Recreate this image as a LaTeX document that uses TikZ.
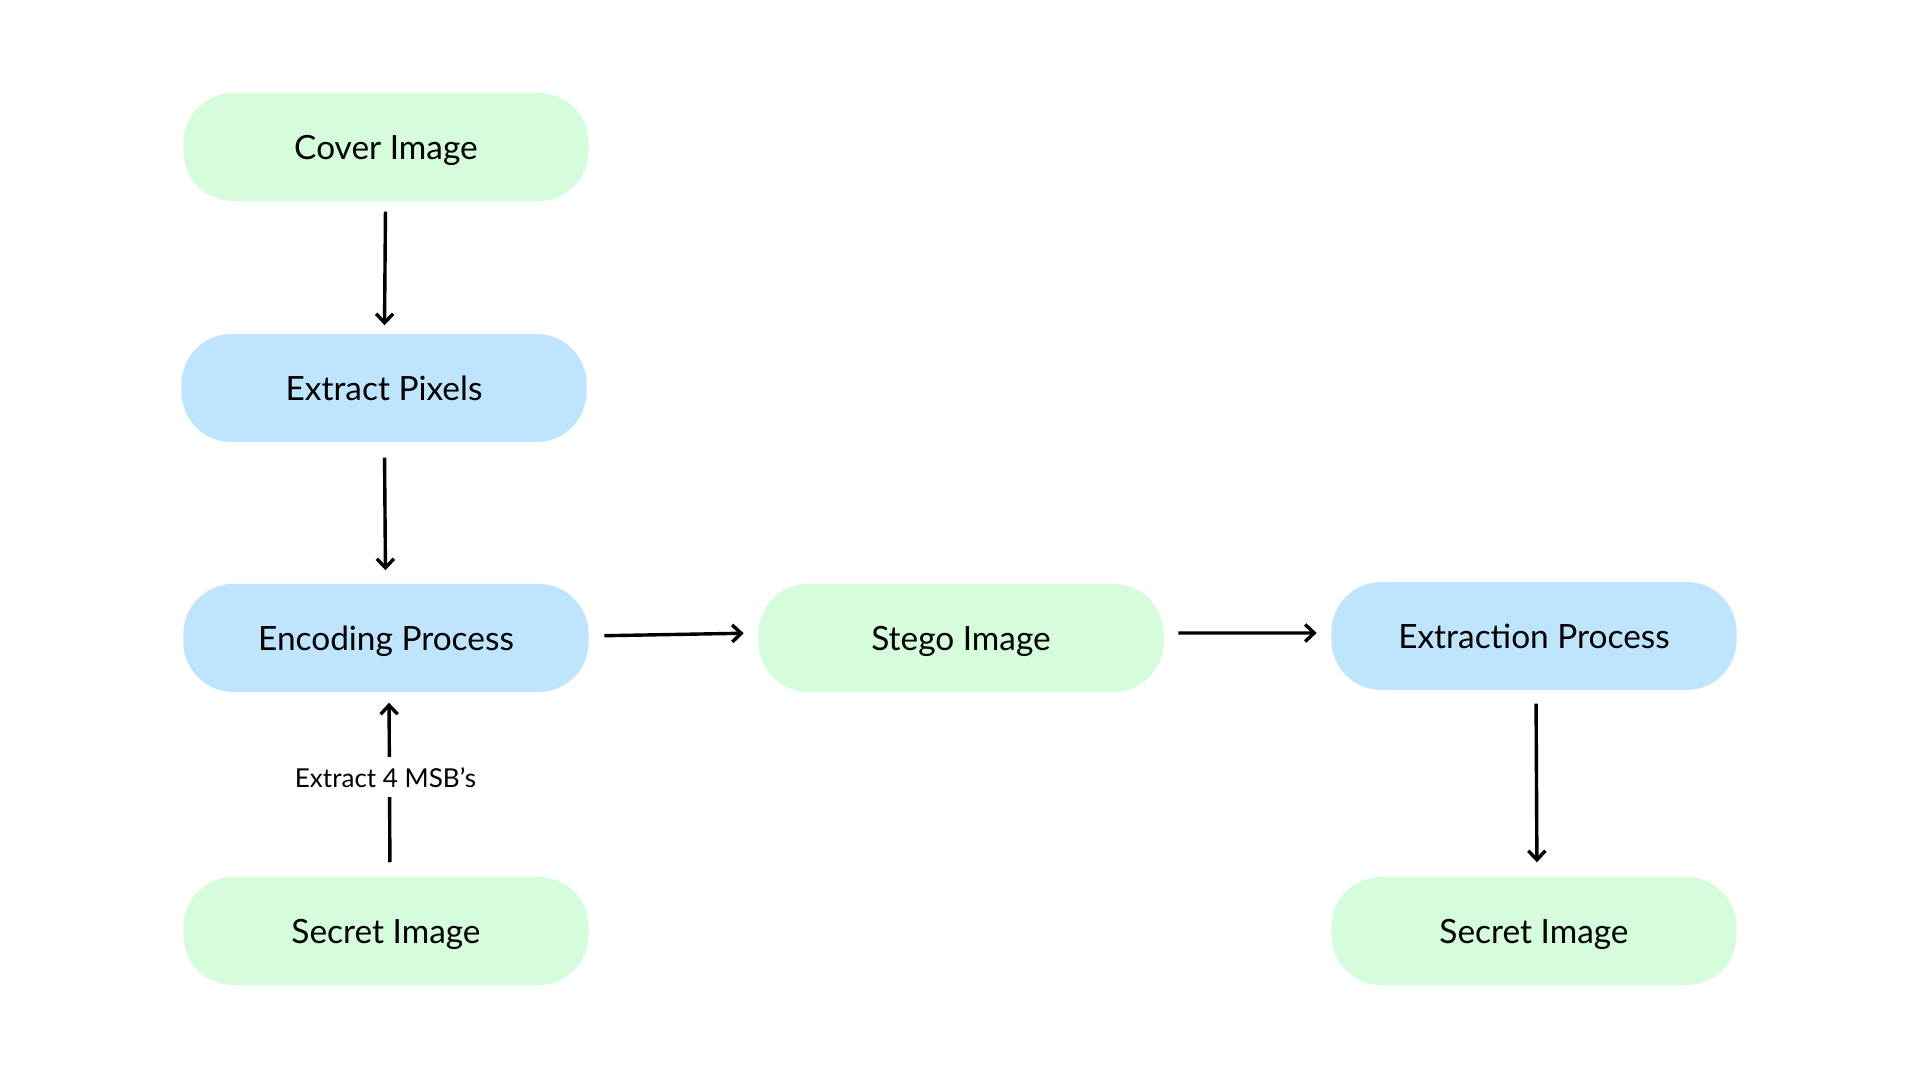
\documentclass[tikz,border=0pt]{standalone}
\usepackage{fontspec}
\setmainfont{Lato}
\usetikzlibrary{arrows.meta}
\definecolor{boxgreen}{HTML}{D5FCDB}
\definecolor{boxblue}{HTML}{BFE4FD}
\tikzset{
  pill/.style={rounded corners=0.5cm, minimum width=4.05cm, minimum height=1.08cm,
    inner sep=0pt, text depth=0pt, font=\fontsize{9.5pt}{11pt}\selectfont, text=black},
  greenbox/.style={pill, fill=boxgreen},
  bluebox/.style={pill, fill=boxblue},
  conn/.style={line width=0.034cm, -{Straight Barb[length=0.09cm, width=0.17cm, line width=0.034cm]}},
  lbl/.style={fill=white, font=\fontsize{7.4pt}{8pt}\selectfont, inner xsep=2pt, inner ysep=0.1cm, text depth=0pt}
}
\begin{document}
\begin{tikzpicture}[x=0.01cm, y=-0.01cm]
\useasboundingbox (0,0) rectangle (1920,1080);
\node[greenbox] (cover) at (386,147) {Cover Image};
\node[bluebox] (pix) at (384,388) {Extract Pixels};
\node[bluebox] (enc) at (386,638) {Encoding Process};
\node[greenbox] (stego) at (961,638) {Stego Image};
\node[bluebox] (extr) at (1534,636) {Extraction Process};
\node[greenbox] (sec1) at (386,931) {Secret Image};
\node[greenbox] (sec2) at (1534,931) {Secret Image};

\draw[conn, shorten <=0.10cm, shorten >=0.08cm] (cover) -- (pix);
\draw[conn, shorten <=0.15cm, shorten >=0.13cm] (pix) -- (enc);
\draw[conn, shorten <=0.14cm, shorten >=0.10cm] ([xshift=0.04cm]sec1.north) -- node[lbl, pos=0.54, xshift=-0.04cm] {Extract 4 MSB’s} ([xshift=0.03cm]enc.south);
\draw[conn, shorten <=0.15cm, shorten >=0.14cm] ([yshift=0.02cm]enc.east) -- ([yshift=0.05cm]stego.west);
\draw[conn, shorten <=0.14cm, shorten >=0.14cm] ([yshift=0.05cm]stego.east) -- ([yshift=0.03cm]extr.west);
\draw[conn, shorten <=0.13cm, shorten >=0.14cm] ([xshift=0.02cm]extr.south) -- ([xshift=0.03cm]sec2.north);
\end{tikzpicture}
\end{document}
